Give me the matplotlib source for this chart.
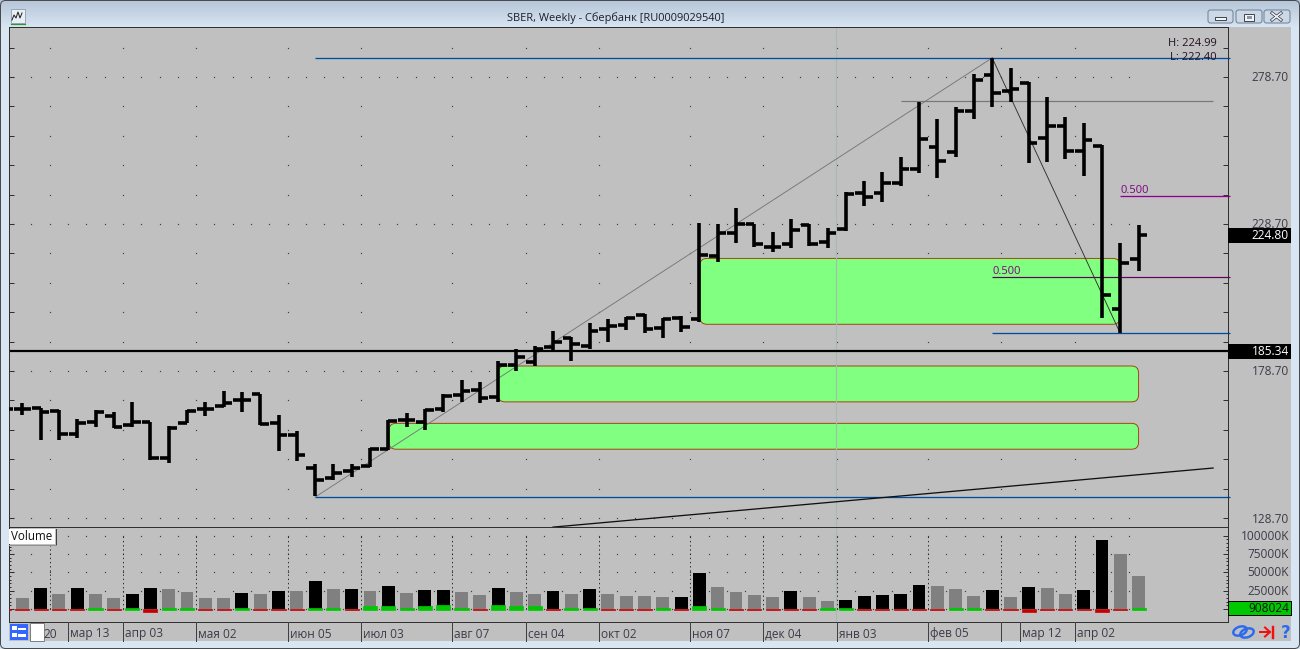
import numpy as np
import matplotlib
matplotlib.use("Agg")
import matplotlib.pyplot as plt
from matplotlib.patches import Rectangle, FancyBboxPatch, Ellipse
from matplotlib.transforms import Affine2D

plt.rcParams['font.family'] = ['Open Sans', 'DejaVu Sans']

TITLE = "SBER, Weekly - Сбербанк [RU0009029540]"
HIGH = [166.6,167.9,166.0,165.4,162.4,165.4,164.6,168.3,161.2,160.0,165.4,168.0,172.0,171.7,170.9,163.7,158.4,147.0,146.9,146.9,152.4,162.0,164.5,165.7,
        170.8,175.6,175.1,182.1,186.1,187.3,192.3,190.1,194.9,196.3,197.2,198.1,196.6,197.4,229.2,228.7,234.0,228.6,225.9,230.3,228.6,227.2,
        239.7,243.4,246.5,251.6,270.3,264.3,268.6,279.6,285.0,281.6,277.1,271.8,265.0,262.9,255.6,222.1,228.4]
LOW = [164.9,163.6,155.4,155.2,155.8,159.5,159.2,159.5,148.4,147.3,160.9,163.4,166.6,164.6,160.3,151.5,148.1,136.2,141.6,142.5,146.1,152.0,159.5,158.6,
       164.9,168.3,167.7,168.3,178.8,180.5,185.6,182.2,186.2,188.7,192.6,191.5,189.8,192.1,195.5,215.7,222.1,220.8,219.1,220.4,221.3,220.7,
       226.3,234.9,236.1,241.6,245.9,244.2,251.6,264.5,268.6,270.1,249.6,249.9,250.7,245.1,196.8,191.5,212.8]
OPEN = [165.7,165.8,166.0,165.2,157.3,161.5,163.4,160.3,161.2,149.1,161.1,165.8,166.8,168.8,170.9,161.1,156.9,145.6,142.4,144.8,146.4,152.3,162.0,161.5,
        165.7,170.5,172.2,169.7,180.7,181.6,186.7,190.0,187.3,192.9,194.3,197.7,193.4,196.6,196.4,217.9,225.8,228.6,221.0,221.8,228.2,222.5,
        226.9,239.1,239.4,242.8,247.4,255.0,253.3,267.2,279.4,274.0,276.5,258.1,262.0,253.6,255.3,199.7,216.7]
CLOSE = [165.7,165.8,164.6,157.3,161.1,164.6,159.5,161.5,149.1,159.3,165.2,165.8,167.7,168.8,160.6,156.9,150.1,141.6,144.1,145.6,152.3,161.7,162.0,165.4,
         170.2,172.0,169.6,180.7,183.6,186.1,188.7,187.8,192.4,194.0,196.6,193.0,196.3,193.8,218.2,225.8,228.6,221.8,221.0,226.7,221.8,225.5,
         238.8,238.0,242.8,247.3,257.5,250.2,267.2,277.7,273.4,274.6,256.1,262.0,253.6,257.3,204.5,215.5,224.8]
VOLUME = [26390,15470,29120,20930,29120,20930,15470,20930,29120,27755,23660,15470,15470,22295,20930,25025,25025,38675,27755,27755,25025,31850,22295,26390,
          26390,23660,19565,29120,23660,20930,25025,20930,27755,20930,18200,18200,16835,16835,49595,30485,23660,19565,16835,25025,16835,11375,
          12740,18200,19565,20930,33215,31850,27755,18200,26390,16835,30485,29120,20930,26390,94640,75530,45500]
VOL_DARK = [1,0,1,0,1,0,0,1,1,0,0,0,0,1,0,1,0,1,0,1,0,1,0,1,1,0,0,1,0,0,1,0,1,0,0,0,0,1,1,0,0,0,0,1,0,0,1,1,1,1,1,0,0,0,1,0,1,0,0,1,1,0,0]
VOL_DELTA = [-1200,-1200,-2000,-1200,-2000,1800,-1200,1800,-3600,1800,1800,-1200,-1200,1800,-1200,-1200,-1200,1800,1800,-1200,3600,3600,1800,4500,
             5900,1800,-1200,5900,3600,4500,-1200,1800,1800,-1200,-1200,-2000,1800,-1200,4500,1800,-1200,-1200,-1200,-1200,-2000,1800,
             1800,-2000,-1200,-1200,-1200,-1200,1800,1800,-1200,-1200,-3600,-1200,-1200,-1200,-4500,-1200,1800]
PRICE_LABELS = [278.70, 228.70, 178.70, 128.70]
VOLUME_LABELS = [100000, 75000, 50000, 25000]
DATE_SEPS = [3.5,6.5,10.5,15.5,19.5,24.5,28.5,32.5,37.5,41.5,45.5,50.5,54.5,55.5,58.5]
DATE_LABELS = ["мар 13","апр 03","мая 02","июн 05","июл 03","авг 07","сен 04","окт 02","ноя 07","дек 04","янв 03","фев 05","","мар 12","апр 02"]
GRID_SEPS = [2.5,6.5,10.5,15.5,19.5,24.5,28.5,32.5,37.5,41.5,45.5,50.5,54.5,58.5]
ZONES = [(38.03,60.98,194.6,217.0),(27.0,62.0,168.2,180.4),(21.04,62.0,152.1,160.9)]
HLINES = [(17,67,285.2,'#004ca0',1.3),(17,67,135.8,'#004ca0',1.3),(54,67,191.5,'#004ca0',1.3),
          (61,67,238.1,'#900090',1.3),(54,67,210.6,'#600060',1.2),(49,66.07,270.4,'#777777',1.2)]
TRENDS = [(17,54,135.8,285.2,'#777777',0.9),(54,61,285.2,191.5,'#303030',0.9),(30,66.07,125.6,145.7,'#101010',1.3)]
FIB_LABELS = [(54,210.6,'0.500'),(61,238.1,'0.500')]
LAST_PRICE = 224.80
LEVEL = 185.34
VOL_LAST = 908
CURSOR_X = 45.46

W, H = 1300, 649
PX = 0.72
GREY = '#c0c0c0'
AXC = '#3c3c4a'
fig = plt.figure(figsize=(13, 6.49), dpi=100, facecolor='#d6e3f2')

# window background gradient
bg = fig.add_axes([0, 0, 1, 1], zorder=-2)
grad = np.zeros((H, 1, 3))
top = np.array([0xb6, 0xc6, 0xd8]) / 255
bot = np.array([0xd8, 0xe5, 0xf3]) / 255
t = np.clip(np.arange(H) / 27.0, 0, 1)[:, None]
grad[:, 0, :] = top * (1 - t) + bot * t
bg.imshow(grad, aspect='auto', extent=(0, W, H, 0))
bg.add_patch(Rectangle((9, 27), 1282, 614, fc=GREY, ec='none'))
bg.set_xlim(0, W); bg.set_ylim(H, 0); bg.axis('off')

# price panel
ax = fig.add_axes([9/W, 1-527/H, 1219/W, 500/H], zorder=2, facecolor=GREY)
xlim = ((9-4)/18.3, (1228-4)/18.3)
ax.set_xlim(*xlim)
ax.set_ylim(125.64, 295.71)
k = np.arange(len(HIGH))
rows = np.arange(128.7, 290, 10)
for r in rows:
    major = abs(((r - 128.7) % 50)) < 1e-6
    xs = k[:62] + 0.5 if major else np.array(GRID_SEPS)
    ax.plot(xs, [r]*len(xs), ls='none', marker='s', ms=0.85, mfc='#404040', mec='none', zorder=0.5)

for x0, x1, p0, p1 in ZONES:
    (a, b), (c, d) = ax.transData.transform([(x0, p0), (x1, p1)])
    ax.add_patch(FancyBboxPatch((a, b), c-a, d-b, boxstyle="round,pad=0,rounding_size=7",
                                transform=Affine2D(), fc='#80ff80', ec='#a03c00', lw=0.9*PX, zorder=1))
for x0, x1, p, c, lw in HLINES:
    ax.plot([x0, x1], [p, p], color=c, lw=lw*PX, zorder=2, clip_on=False, solid_capstyle='butt')
for x0, x1, p0, p1, c, lw in TRENDS:
    ax.plot([x0, x1], [p0, p1], color=c, lw=lw*PX, zorder=2)
ax.axhline(LEVEL, color='black', lw=2.2*PX, zorder=2)
ax.axvline(CURSOR_X, color='#a8bab0', lw=1.1*PX, zorder=1.5)
for x, p, s in FIB_LABELS:
    ax.text(x, p, s, color='#800080', fontsize=8, va='bottom', ha='left', zorder=2)

ax.vlines(k, LOW, HIGH, colors='black', lw=3.6*PX, zorder=3, capstyle='butt')
ax.hlines(OPEN, k-0.47, k, colors='black', lw=3.6*PX, zorder=3, capstyle='butt')
ax.hlines(CLOSE, k, k+0.47, colors='black', lw=3.6*PX, zorder=3, capstyle='butt')

ax.set_xticks([])
ax.set_yticks(rows)
ax.set_yticklabels([])
ax.tick_params(axis='y', left=True, right=True, direction='in', length=5*PX, width=1*PX, color='#303030')
for s in ax.spines.values():
    s.set_color('#303030'); s.set_linewidth(1*PX)

# volume panel
vax = fig.add_axes([9/W, 1-622/H, 1219/W, 95/H], zorder=2, facecolor=GREY)
vax.set_xlim(*xlim)
vax.set_ylim(-17760, 112022)
vcol = ['black' if v else '#808080' for v in VOL_DARK]
vax.bar(k, VOLUME, width=0.71, color=vcol, zorder=2)
dcol = ['#00c800' if d > 0 else '#c80000' for d in VOL_DELTA]
dbot = [-800 if d > 0 else 0 for d in VOL_DELTA]
dh = [d + 800 if d > 0 else d for d in VOL_DELTA]
vax.bar(k, dh, bottom=dbot, width=0.77, color=dcol, edgecolor=dcol, linewidth=0.7*PX, zorder=3)
for r in [100000, 75000, 50000, 25000, 0]:
    xs = k[:62] + 0.5
    vax.plot(xs, [r]*len(xs), ls='none', marker='s', ms=0.85, mfc='#404040', mec='none', zorder=1)
vax.vlines(GRID_SEPS, 0, 100000, colors='#303030', lw=1*PX, linestyles=(0, (1.4, 2.8)), zorder=1)
vax.axvline(CURSOR_X, color='#a8bab0', lw=1.1*PX, zorder=1.5)
vax.set_xticks([])
vax.set_yticks(VOLUME_LABELS + [0])
vax.set_yticks(np.arange(0, 100001, 5000), minor=True)
vax.set_yticklabels([])
vax.tick_params(axis='y', which='major', left=True, right=True, direction='in', length=5*PX, width=1*PX, color='#303030')
vax.tick_params(axis='y', which='minor', left=True, right=True, direction='in', length=2.5*PX, width=1*PX, color='#303030')
for s in vax.spines.values():
    s.set_color('#303030'); s.set_linewidth(1*PX)

# overlay in window pixels
ov = fig.add_axes([0, 0, 1, 1], zorder=5)
ov.set_xlim(0, W); ov.set_ylim(H, 0); ov.axis('off')
ov.patch.set_alpha(0)

def price_y(a, v):
    return H - a.transData.transform((0, v))[1]

def bar_x(v):
    return ax.transData.transform((v, 0))[0]

for p in PRICE_LABELS:
    ov.text(1289, price_y(ax, p) + (1 if p < 150 else 0.5), f"{p:.2f}", ha='right', va='center', fontsize=8.6, color=AXC)
for v in VOLUME_LABELS:
    ov.text(1289, price_y(vax, v) + 0.5, f"{v}K", ha='right', va='center', fontsize=8.6, color=AXC)

for p in (LAST_PRICE, LEVEL):
    yy = price_y(ax, p)
    ov.add_patch(Rectangle((1228, yy-7.5), 63, 15, fc='black', ec='none', zorder=3))
    ov.text(1289, yy + 0.5, f"{p:.2f}", ha='right', va='center', fontsize=8.6, color='white', zorder=4)

yy = price_y(vax, VOL_LAST*1.0)
ov.add_patch(Rectangle((1228, yy-7), 63, 14, fc='#00c800', ec='black', lw=1*PX, zorder=3))
ov.text(1289, yy + 0.5, f"{908024}", ha='right', va='center', fontsize=8.6, color='#101010', zorder=4)

ov.text(1217, 43.5, "H: 224.99", ha='right', va='center', fontsize=8, color='#201020')
ov.text(1217, 57, "L: 222.40", ha='right', va='center', fontsize=8, color='#201020')
ov.text(616, 18, TITLE, ha='center', va='center', fontsize=7.95, color='#1c1c28')

# date strip
for s, lab in zip(DATE_SEPS, DATE_LABELS):
    px = bar_x(s)
    ov.plot([px, px], [622, 641], color='#404040', lw=1*PX)
    ov.text(px+2, 634, lab, ha='left', va='center', fontsize=8.6, color=AXC)
ov.text(43, 634, "20", ha='left', va='center', fontsize=8.6, color=AXC)

# Volume tag
ov.add_patch(Rectangle((9, 529), 46, 15, fc='white', ec='none'))
ov.plot([55.5, 55.5], [529, 544], color='#404040', lw=1*PX)
ov.plot([9, 55.5], [544.5, 544.5], color='#909090', lw=1*PX)
ov.text(11, 537, "Volume", ha='left', va='center', fontsize=8.4, color='#101010')

# list buttons
ov.add_patch(Rectangle((10, 624), 18, 16, fc='#3366ff', ec='none'))
for y0, y1, h in [(626, 628, 2), (633, 634, 3)]:
    ov.add_patch(Rectangle((12, y0), 5, 4, fc='white', ec='none'))
    ov.add_patch(Rectangle((18, y1), 8, h, fc='white', ec='none'))
ov.add_patch(Rectangle((29.5, 623), 14, 18, fc='white', ec='#808080', lw=1*PX))

# bottom right icons
ov.add_patch(Ellipse((1240, 631), 14, 8.5, angle=-20, fc='none', ec='#2a6af0', lw=2.4*PX))
ov.add_patch(Ellipse((1247, 633), 14, 8.5, angle=-20, fc='none', ec='#2a6af0', lw=2.4*PX))
ov.plot([1260, 1270], [632, 632], color='#f01010', lw=2*PX)
ov.plot([1265, 1270, 1265], [627.5, 632, 636.5], color='#f01010', lw=2*PX)
ov.plot([1273, 1273], [626.5, 637.5], color='#f01010', lw=2.4*PX)
ov.text(1285.5, 632.5, "?", ha='center', va='center', fontsize=12, fontweight='bold', family='DejaVu Sans', color='#2a6af0')

# title bar icon
ov.add_patch(Rectangle((10.5, 9), 14, 14, fc='#e8eef4', ec='#8a9ab0', lw=0.8*PX))
ov.plot([12, 14, 16, 18, 20, 22], [20, 15, 18, 12, 18, 13], color='#202020', lw=1*PX)
ov.plot([10.5, 24.5], [23.5, 23.5], color='#2a9a2a', lw=1.2*PX)

# window buttons
for x0, x1 in [(1208, 1233), (1236, 1262), (1264, 1290)]:
    ov.add_patch(FancyBboxPatch((x0, 10), x1-x0, 13, boxstyle="round,pad=0,rounding_size=2.5",
                                fc='#ccd8e6', ec='#6f8097', lw=1*PX))
ov.add_patch(Rectangle((1215, 17), 11, 3, fc='#f2f5f8', ec='#303844', lw=0.9*PX))
ov.add_patch(Rectangle((1244, 13.5), 10, 7, fc='#f2f5f8', ec='#303844', lw=0.9*PX))
ov.add_patch(Rectangle((1246.5, 15.5), 5, 3, fc='#8a98a8', ec='none'))
ov.plot([1272, 1281], [13, 20], color='#303844', lw=3*PX)
ov.plot([1272, 1281], [20, 13], color='#303844', lw=3*PX)
ov.plot([1272, 1281], [13, 20], color='#f2f5f8', lw=1.6*PX)
ov.plot([1272, 1281], [20, 13], color='#f2f5f8', lw=1.6*PX)

# window outline
ov.add_patch(FancyBboxPatch((0.5, 0.5), W-1, H-1, boxstyle="round,pad=0,rounding_size=5",
                            fc='none', ec='#4a4a4a', lw=1*PX))

fig.savefig("out.png", dpi=100, facecolor=fig.get_facecolor())
